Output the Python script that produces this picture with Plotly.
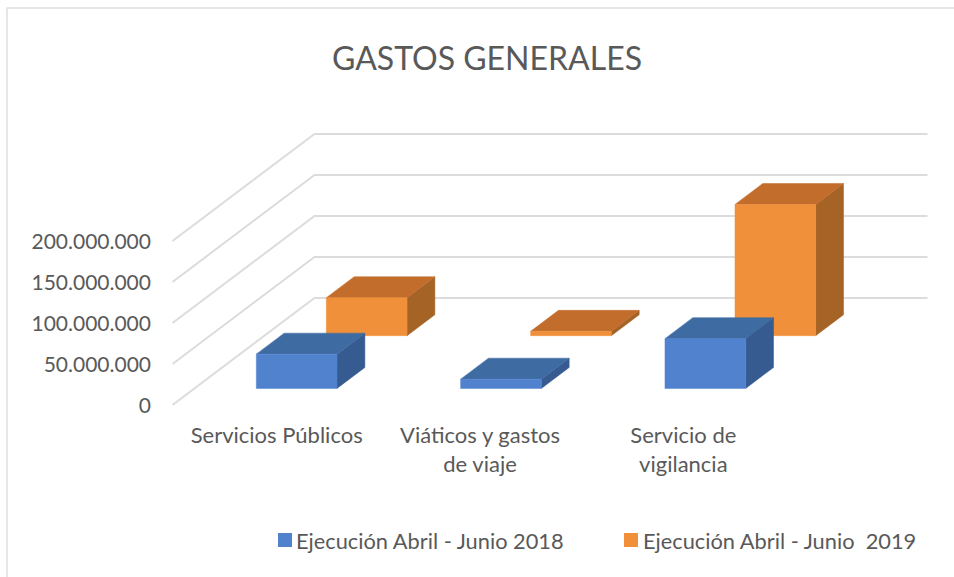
import plotly.graph_objects as go

categories = ["Servicios Públicos", "Viáticos y gastos<br>de viaje", "Servicio de<br>vigilancia"]
series_2018 = [41.8e6, 11.3e6, 60.7e6]
series_2019 = [46.3e6, 5.3e6, 160e6]
y_ticks = [0, 50e6, 100e6, 150e6, 200e6]
y_labels = ["0", "50.000.000", "100.000.000", "150.000.000", "200.000.000"]
series_names = ["Ejecución Abril - Junio 2018", "Ejecución Abril - Junio\u00a0 2019"]

W, H = 954, 577
PX_CAT = 204.33
PX_VAL = 0.82e-6
ORIGIN_X, ORIGIN_Y = 172.5, 405
L, R, T, B = 152, 940, 100, 420
DEPTH_X = 142 / PX_CAT
DEPTH_Y = 107 / PX_VAL
BAR_W = 0.395
ROW_D = 0.196
ROWS = [0.155, 0.648]


def proj(x, v, d):
    return x + d * DEPTH_X, v + d * DEPTH_Y


fig = go.Figure()
GRID = "#DCDCDC"
for v in y_ticks:
    pts = [proj(0, v, 0), proj(0, v, 1), proj(3, v, 1)]
    fig.add_trace(go.Scatter(x=[p[0] for p in pts], y=[p[1] for p in pts], mode="lines",
                             line=dict(color=GRID, width=2), showlegend=False, hoverinfo="skip"))


def face(pts, color):
    xs = [p[0] for p in pts] + [pts[0][0]]
    ys = [p[1] for p in pts] + [pts[0][1]]
    fig.add_trace(go.Scatter(x=xs, y=ys, mode="lines", fill="toself", fillcolor=color,
                             line=dict(color=color, width=0.5), showlegend=False, hoverinfo="skip"))


def bar(i, value, d, front, top, side):
    x0 = i + 0.5 - BAR_W / 2
    x1 = x0 + BAR_W
    d1 = d + ROW_D
    face([proj(x1, 0, d), proj(x1, 0, d1), proj(x1, value, d1), proj(x1, value, d)], side)
    face([proj(x0, value, d), proj(x1, value, d), proj(x1, value, d1), proj(x0, value, d1)], top)
    face([proj(x0, 0, d), proj(x1, 0, d), proj(x1, value, d), proj(x0, value, d)], front)


STYLE_2018 = ("#5082CE", "#3F6BA3", "#365B91")
STYLE_2019 = ("#F0903A", "#C36D2D", "#A56325")
for i, v in enumerate(series_2019):
    bar(i, v, ROWS[1], *STYLE_2019)
for i, v in enumerate(series_2018):
    bar(i, v, ROWS[0], *STYLE_2018)

x_range = [(L - ORIGIN_X) / PX_CAT, (R - ORIGIN_X) / PX_CAT]
y_range = [(ORIGIN_Y - B) / PX_VAL, (ORIGIN_Y - T) / PX_VAL]
TXT = "#595959"
FONT = "Lato"


def px(v):
    return (v - L) / (R - L)


def py(v):
    return (B - v) / (B - T)


LEGEND_SWATCH = [278, 624]
LEGEND_TEXT = [296, 643]
LEGEND_Y = (533, 547)
legend_shapes = [dict(type="rect", xref="paper", yref="paper", x0=px(s), x1=px(s + 14),
                      y0=py(LEGEND_Y[1]), y1=py(LEGEND_Y[0]), fillcolor=c, line=dict(width=0))
                 for s, c in zip(LEGEND_SWATCH, (STYLE_2018[0], STYLE_2019[0]))]
legend_notes = [dict(text=n, xref="paper", yref="paper", x=px(t), y=py(540), xanchor="left", yanchor="middle",
                     showarrow=False, font=dict(size=21.8, color=TXT, family=FONT), xshift=-2)
                for n, t in zip(series_names, LEGEND_TEXT)]

fig.update_layout(
    width=W, height=H, margin=dict(l=L, r=W - R, t=T, b=H - B),
    paper_bgcolor="white", plot_bgcolor="white", showlegend=False,
    font=dict(family=FONT, color=TXT, size=20),
    title=dict(text="GASTOS GENERALES", x=487 / W, xanchor="center", y=1 - 59 / H, yanchor="middle",
               font=dict(size=32, color=TXT, family=FONT)),
    xaxis=dict(range=x_range, tickmode="array", tickvals=[0.51, 1.505, 2.5], ticktext=categories,
               showgrid=False, zeroline=False, showline=False, ticks="", tickfont=dict(size=22)),
    yaxis=dict(range=y_range, tickmode="array", tickvals=y_ticks, ticktext=y_labels,
               showgrid=False, zeroline=False, showline=False, ticks="", tickfont=dict(size=21),
               ticklabelshift=1),
    annotations=legend_notes,
    shapes=[dict(type="rect", xref="paper", yref="paper",
                 x0=px(7), x1=px(W + 20), y0=py(H + 20), y1=py(8),
                 line=dict(color="#E0E0E0", width=1.5), layer="below")] + legend_shapes,
)
fig.write_html("out.html", config=dict(displayModeBar=False),
               post_script="document.body.style.margin='0';document.body.style.overflow='hidden';")
